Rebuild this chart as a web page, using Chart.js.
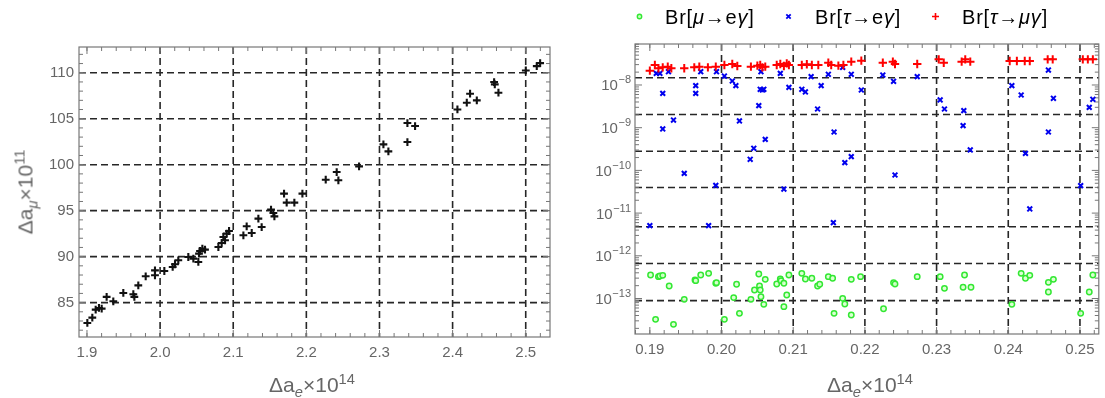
<!DOCTYPE html>
<html><head><meta charset="utf-8">
<script src="https://cdn.jsdelivr.net/npm/chart.js@4.4.1/dist/chart.umd.min.js"></script>
<style>
html,body{margin:0;padding:0;background:#fff;width:1105px;height:398px;overflow:hidden;position:relative;font-family:'Liberation Sans',Arial,sans-serif;}
.box{position:absolute;top:0;height:398px;}
#b1{left:0;width:560px;}
#b2{left:560px;width:545px;}
.t{position:absolute;color:#666;font-size:21px;white-space:nowrap;line-height:21px;}
.t sub,.t sup{font-size:70%;line-height:0;}
.leg{position:absolute;top:5px;font-size:20px;letter-spacing:0.8px;color:#000;white-space:nowrap;line-height:24px;}
.mk{position:absolute;top:12px;}
</style></head><body>
<div class="box" id="b1"><canvas id="c1"></canvas></div>
<div class="box" id="b2"><canvas id="c2"></canvas></div>

<div class="t" style="left:312px;top:374px;transform:translateX(-50%);">Δa<sub><i>e</i></sub>×10<sup>14</sup></div>
<div class="t" style="left:870px;top:374px;transform:translateX(-50%);">Δa<sub><i>e</i></sub>×10<sup>14</sup></div>
<div class="t" style="left:25px;top:191.7px;transform:translate(-50%,-50%) rotate(-90deg);">Δa<sub><i>μ</i></sub>×10<sup>11</sup></div>

<svg class="mk" style="left:635px" width="9" height="9"><circle cx="4.5" cy="4.5" r="2.2" fill="#c8ffc0" stroke="#33e833" stroke-width="1.4"/></svg>
<div class="leg" style="left:665px">Br[<i>μ</i>→e<i>γ</i>]</div>
<svg class="mk" style="left:784px" width="9" height="9"><path d="M2.3 2.3L6.7 6.7M6.7 2.3L2.3 6.7" stroke="#0000ee" stroke-width="1.8"/></svg>
<div class="leg" style="left:815px">Br[<i>τ</i>→e<i>γ</i>]</div>
<svg class="mk" style="left:931px" width="9" height="9"><path d="M4.5 1V8M1 4.5H8" stroke="#ff0000" stroke-width="1.6"/></svg>
<div class="leg" style="left:962px">Br[<i>τ</i>→<i>μγ</i>]</div>

<script>
// ---- left panel data: Δa_e ×10^14 vs Δa_μ ×10^11 ----
const leftX = [1.9005,1.9073,1.9119,1.9164,1.9201,1.9269,1.9360,1.9497,1.9634,1.9648,1.9702,1.9803,1.9930,1.9930,2.0058,2.0172,2.0204,2.0249,2.0386,2.0455,2.0523,2.0532,2.0546,2.0578,2.0614,2.0797,2.0842,2.0865,2.0888,2.0911,2.0943,2.1139,2.1184,2.1253,2.1344,2.1389,2.1517,2.1549,2.1563,2.1695,2.1731,2.1836,2.1946,2.2265,2.2415,2.2438,2.2721,2.3054,2.3122,2.3382,2.3487,2.3382,2.4066,2.4194,2.4239,2.4331,2.4568,2.4577,2.4627,2.5001,2.5151,2.5197];
const leftY = [82.79,83.37,84.24,84.42,84.35,85.62,85.14,86.05,85.91,85.62,86.88,87.86,88.51,87.97,88.44,88.88,89.17,89.60,89.96,89.78,89.42,90.33,90.62,90.87,90.76,91.05,91.49,92.14,91.78,92.50,92.79,92.32,93.30,92.57,94.13,93.22,95.11,94.75,94.38,96.85,95.87,95.87,96.85,98.37,99.20,98.30,99.82,102.21,101.45,104.53,104.20,102.46,106.01,106.74,107.72,106.99,108.99,108.73,107.83,110.25,110.72,111.05];

// ---- right panel data: Δa_e ×10^14 vs branching ratios ----
const xMuEGamma = [0.1901,0.1908,0.1912,0.1914,0.1918,0.1927,0.1933,0.1948,0.1963,0.1964,0.1971,0.1982,0.1992,0.1993,0.2004,0.2017,0.2021,0.2025,0.2041,0.2046,0.2052,0.2053,0.2054,0.2055,0.2059,0.2061,0.2077,0.2082,0.2083,0.2087,0.2087,0.2091,0.2094,0.2112,0.2117,0.2126,0.2134,0.2137,0.2149,0.2155,0.2157,0.2169,0.2172,0.2181,0.2181,0.2194,0.2226,0.2240,0.2242,0.2273,0.2305,0.2311,0.2337,0.2339,0.2348,0.2405,0.2418,0.2424,0.2430,0.2456,0.2456,0.2463,0.2501,0.2513,0.2518];
const brMuEGamma = [3.55e-13,3.25e-14,3.25e-13,3.37e-13,3.49e-13,1.96e-13,2.48e-14,9.55e-14,2.71e-13,2.62e-13,3.55e-13,3.88e-13,2.27e-13,2.35e-13,3.25e-14,1.05e-13,2.15e-13,4.49e-14,9.55e-14,1.58e-13,3.75e-13,1.96e-13,1.58e-13,1.10e-13,7.30e-14,2.81e-13,2.19e-13,2.86e-13,2.62e-13,2.27e-13,6.44e-14,1.21e-13,3.55e-13,3.88e-13,2.86e-13,2.97e-13,1.96e-13,2.15e-13,3.25e-13,2.97e-13,4.49e-14,1.01e-13,7.43e-14,4.11e-14,2.81e-13,3.25e-13,5.78e-14,2.35e-13,2.19e-13,3.25e-13,3.25e-13,1.73e-13,1.83e-13,3.55e-13,1.83e-13,7.30e-14,3.88e-13,2.97e-13,3.49e-13,1.42e-13,2.39e-13,2.81e-13,4.49e-14,1.42e-13,3.55e-13];

const xTauEGamma = [0.1900,0.1909,0.1914,0.1918,0.1918,0.1926,0.1933,0.1948,0.1964,0.1964,0.1971,0.1982,0.1992,0.1993,0.2004,0.2015,0.2020,0.2025,0.2040,0.2045,0.2052,0.2054,0.2057,0.2059,0.2055,0.2061,0.2082,0.2087,0.2094,0.2112,0.2117,0.2125,0.2134,0.2139,0.2149,0.2157,0.2156,0.2169,0.2172,0.2181,0.2181,0.2195,0.2225,0.2240,0.2242,0.2273,0.2305,0.2311,0.2337,0.2338,0.2347,0.2405,0.2418,0.2424,0.2430,0.2456,0.2456,0.2463,0.2501,0.2513,0.2518];
const brTauEGamma = [5.08e-12,1.87e-8,1.87e-8,6.38e-9,9.33e-10,2.05e-8,1.51e-9,8.53e-11,9.65e-9,6.38e-9,2.05e-8,5.08e-12,4.47e-11,2.05e-8,1.62e-8,1.24e-8,9.65e-9,1.44e-9,1.82e-10,3.29e-10,3.28e-9,7.92e-9,7.64e-9,7.92e-9,2.05e-8,5.34e-10,1.87e-8,3.66e-11,8.81e-9,7.92e-9,6.86e-9,1.57e-8,2.74e-9,9.65e-9,1.78e-8,7.93e-10,5.97e-12,2.59e-8,1.52e-10,2.10e-10,1.78e-8,7.64e-9,1.71e-8,1.22e-8,7.80e-11,1.57e-8,4.46e-9,2.74e-9,1.12e-9,2.51e-9,3.01e-10,9.65e-9,5.83e-9,2.51e-10,1.25e-11,2.24e-8,7.93e-10,4.88e-9,4.39e-11,3.00e-9,4.62e-9];

const xTauMuGamma = [0.1900,0.1907,0.1912,0.1918,0.1925,0.1930,0.1948,0.1962,0.1969,0.1981,0.1992,0.2004,0.2015,0.2022,0.2041,0.2050,0.2054,0.2057,0.2061,0.2077,0.2082,0.2087,0.2091,0.2094,0.2112,0.2119,0.2126,0.2135,0.2149,0.2153,0.2163,0.2170,0.2181,0.2195,0.2225,0.2239,0.2242,0.2273,0.2303,0.2310,0.2335,0.2340,0.2347,0.2402,0.2412,0.2423,0.2430,0.2455,0.2462,0.2504,0.2511,0.2518];
const brTauMuGamma = [2.17e-8,2.94e-8,2.46e-8,2.59e-8,2.69e-8,2.46e-8,2.46e-8,2.59e-8,2.69e-8,2.59e-8,2.69e-8,2.94e-8,3.10e-8,2.79e-8,2.69e-8,2.84e-8,2.94e-8,2.59e-8,2.69e-8,2.94e-8,3.10e-8,2.79e-8,3.21e-8,2.94e-8,2.94e-8,3.05e-8,2.94e-8,2.94e-8,3.33e-8,2.94e-8,2.84e-8,2.94e-8,3.52e-8,3.72e-8,3.33e-8,3.52e-8,3.10e-8,3.10e-8,3.99e-8,3.33e-8,3.52e-8,3.99e-8,3.52e-8,3.65e-8,3.65e-8,3.65e-8,3.65e-8,3.99e-8,3.99e-8,3.99e-8,3.99e-8,3.99e-8];

// ---- tick labels / grid positions ----
const leftXTicks = [1.9,2.0,2.1,2.2,2.3,2.4,2.5];
const leftXGrid = [2.0,2.1,2.2,2.3,2.4,2.5];
const leftYTicks = [85,90,95,100,105,110];
const rightXTicks = [0.19,0.20,0.21,0.22,0.23,0.24,0.25];
const rightXGrid = [0.20,0.21,0.22,0.23,0.24,0.25];
const rightYTicks = [1e-8,1e-9,1e-10,1e-11,1e-12,1e-13];
const rightYTickBase = '10';
const rightYTickExps = ['−8','−9','−10','−11','−12','−13'];
const rightYGrid = [1.48e-8,2.04e-9,2.82e-10,3.98e-11,4.79e-12,6.61e-13,8.91e-14];

const FAMILY = "'Liberation Sans', Arial, sans-serif";
const FONT = {family: FAMILY, size: 15};
const TICKCOLOR = '#666';

function range(a, b, step){ const r=[]; for(let v=a; v<=b+step/1000; v+=step) r.push(+v.toFixed(6)); return r; }
function logMinor(nLo, nHi){ const r=[]; for(let n=nLo;n<=nHi;n++) for(let k=2;k<=9;k++) r.push(k*Math.pow(10,n)); return r; }

const framePlugin = {
  id: 'frame',
  beforeDatasetsDraw(chart, args, o) {
    const {ctx, chartArea: a, scales: {x, y}} = chart;
    const inX = v => v >= x.min && v <= x.max;
    const inY = v => v >= y.min && v <= y.max;
    ctx.save();
    // dashed grid lines
    ctx.strokeStyle = '#262626'; ctx.lineWidth = 1.6; ctx.setLineDash([7,4]);
    ctx.beginPath();
    o.xGrid.forEach(v => { const p = x.getPixelForValue(v); ctx.moveTo(p, a.top); ctx.lineTo(p, a.bottom); });
    o.yGrid.forEach(v => { const p = y.getPixelForValue(v); ctx.moveTo(a.left, p); ctx.lineTo(a.right, p); });
    ctx.stroke();
    ctx.setLineDash([]);
    // inward tick marks on all four sides
    ctx.strokeStyle = '#777'; ctx.lineWidth = 1;
    ctx.beginPath();
    const xt = (list, len) => list.filter(inX).forEach(v => { const p = x.getPixelForValue(v);
      ctx.moveTo(p, a.bottom); ctx.lineTo(p, a.bottom - len); ctx.moveTo(p, a.top); ctx.lineTo(p, a.top + len); });
    const yt = (list, len) => list.filter(inY).forEach(v => { const p = y.getPixelForValue(v);
      ctx.moveTo(a.left, p); ctx.lineTo(a.left + len, p); ctx.moveTo(a.right, p); ctx.lineTo(a.right - len, p); });
    xt(o.xMajor, 7); xt(o.xMinor, 4); yt(o.yMajor, 7); yt(o.yMinor, 4);
    ctx.stroke();
    // frame
    ctx.strokeStyle = '#777'; ctx.lineWidth = 1.2;
    ctx.strokeRect(a.left, a.top, a.width, a.height);
    ctx.restore();
  },
  afterDraw(chart, args, o) {
    if (!o.powLabels) return;
    // power-of-ten tick labels with a real superscript
    const {ctx, chartArea: a, scales: {y}} = chart;
    ctx.save();
    ctx.fillStyle = TICKCOLOR; ctx.textBaseline = 'alphabetic'; ctx.textAlign = 'left';
    o.powLabels.values.forEach((v, i) => {
      const p = y.getPixelForValue(v);
      const exp = o.powLabels.exps[i];
      ctx.font = '11px ' + FAMILY; const we = ctx.measureText(exp).width;
      ctx.font = '15px ' + FAMILY; const wb = ctx.measureText(o.powLabels.base).width;
      const xr = a.left - 4;
      ctx.fillText(o.powLabels.base, xr - we - wb - 0.5, p + 5.4);
      ctx.font = '11px ' + FAMILY;
      ctx.fillText(exp, xr - we, p - 1.6);
    });
    ctx.restore();
  }
};

function baseOptions(pad, yWidth, xHeight) {
  return {
    responsive: true, maintainAspectRatio: false, animation: false, events: [],
    layout: { padding: pad },
    plugins: { legend: { display: false }, tooltip: { enabled: false } },
    scales: {
      x: { type: 'linear', position: 'bottom', grid: { display: false, drawTicks: false }, border: { display: false },
           ticks: { font: FONT, color: TICKCOLOR, padding: 7, autoSkip: false, maxRotation: 0 },
           afterFit: s => { s.height = xHeight; } },
      y: { grid: { display: false, drawTicks: false }, border: { display: false },
           ticks: { font: FONT, color: TICKCOLOR, padding: 5, autoSkip: false },
           afterFit: s => { s.width = yWidth; } }
    }
  };
}

// ---- left chart ----
const o1 = baseOptions({top: 47, right: 10, bottom: 0, left: 0}, 79, 61);
o1.scales.x.min = 1.8891; o1.scales.x.max = 2.5332;
o1.scales.x.afterBuildTicks = s => { s.ticks = leftXTicks.map(v => ({value: v})); };
o1.scales.x.ticks.callback = v => v.toFixed(1);
o1.scales.y.type = 'linear'; o1.scales.y.min = 81.26; o1.scales.y.max = 112.8;
o1.scales.y.afterBuildTicks = s => { s.ticks = leftYTicks.map(v => ({value: v})); };
o1.scales.y.ticks.callback = v => String(v);
o1.plugins.frame = { xGrid: leftXGrid, yGrid: leftYTicks, xMajor: leftXTicks, xMinor: range(1.88, 2.54, 0.02),
                     yMajor: leftYTicks, yMinor: range(81, 113, 1) };

new Chart(document.getElementById('c1'), {
  type: 'scatter',
  data: { datasets: [{
    label: 'Δa_μ', data: leftX.map((v, i) => ({x: v, y: leftY[i]})),
    pointStyle: 'cross', pointRadius: 3.9, borderWidth: 2.1, borderColor: '#111', backgroundColor: '#111'
  }]},
  options: o1, plugins: [framePlugin]
});

// ---- right chart ----
const o2 = baseOptions({top: 44, right: 2, bottom: 0, left: 0}, 75, 64);
o2.scales.x.min = 0.18793; o2.scales.x.max = 0.25263;
o2.scales.x.afterBuildTicks = s => { s.ticks = rightXTicks.map(v => ({value: v})); };
o2.scales.x.ticks.callback = v => v.toFixed(2);
o2.scales.y.type = 'logarithmic'; o2.scales.y.min = Math.pow(10, -13.831); o2.scales.y.max = Math.pow(10, -7.04);
o2.scales.y.afterBuildTicks = s => { s.ticks = rightYTicks.map(v => ({value: v})); };
o2.scales.y.ticks.display = false;
o2.plugins.frame = { xGrid: rightXGrid, yGrid: rightYGrid, xMajor: rightXTicks, xMinor: range(0.186, 0.254, 0.002),
                     yMajor: rightYTicks, yMinor: logMinor(-14, -8),
                     powLabels: { values: rightYTicks, base: rightYTickBase, exps: rightYTickExps } };

new Chart(document.getElementById('c2'), {
  type: 'scatter',
  data: { datasets: [
    { label: 'Br[μ→eγ]', order: 3, data: xMuEGamma.map((v, i) => ({x: v, y: brMuEGamma[i]})),
      pointStyle: 'circle', pointRadius: 2.7, borderWidth: 1.5, borderColor: '#33e833', backgroundColor: 'rgba(215,255,205,0.9)' },
    { label: 'Br[τ→eγ]', order: 2, data: xTauEGamma.map((v, i) => ({x: v, y: brTauEGamma[i]})),
      pointStyle: 'crossRot', pointRadius: 3.4, borderWidth: 2, borderColor: '#0000ee', backgroundColor: '#0000ee' },
    { label: 'Br[τ→μγ]', order: 1, data: xTauMuGamma.map((v, i) => ({x: v, y: brTauMuGamma[i]})),
      pointStyle: 'cross', pointRadius: 4.2, borderWidth: 2, borderColor: '#ff0000', backgroundColor: '#ff0000' }
  ]},
  options: o2, plugins: [framePlugin]
});
</script>
</body></html>
